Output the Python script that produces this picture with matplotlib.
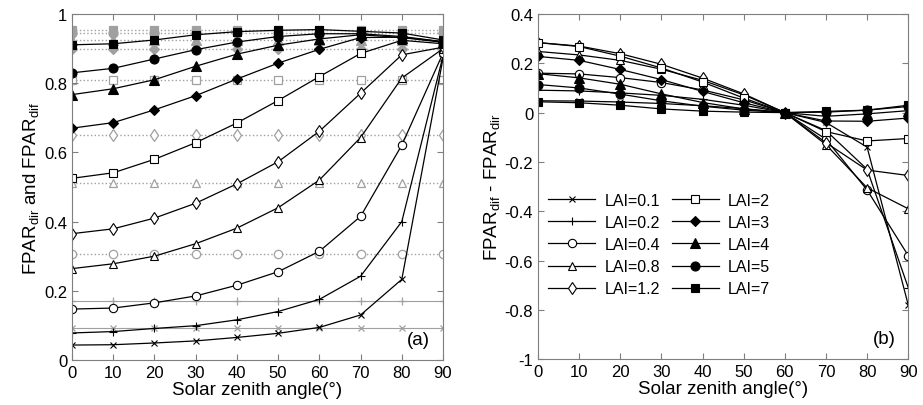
import matplotlib
matplotlib.use("Agg")
import matplotlib.pyplot as plt

plt.rcParams['font.family'] = ['Liberation Sans', 'DejaVu Sans']
plt.rcParams['font.size'] = 12
plt.rcParams['mathtext.fontset'] = 'custom'
plt.rcParams['mathtext.rm'] = 'Liberation Sans'
plt.rcParams['mathtext.it'] = 'Liberation Sans'
plt.rcParams['axes.unicode_minus'] = False

# solar zenith angles (deg)
angles = [0, 10, 20, 30, 40, 50, 60, 70, 80, 90]
lai_labels = ['0.1', '0.2', '0.4', '0.8', '1.2', '2', '3', '4', '5', '7']

# diffuse FPAR, one value per LAI (independent of angle)
fpar_dif = [0.092, 0.169, 0.307, 0.512, 0.649, 0.809, 0.898, 0.926, 0.944, 0.955]

# direct FPAR per LAI
dir_01 = [0.043, 0.044, 0.049, 0.055, 0.065, 0.077, 0.094, 0.130, 0.233, 0.872]
dir_02 = [0.078, 0.082, 0.091, 0.099, 0.116, 0.140, 0.175, 0.242, 0.400, 0.879]
dir_04 = [0.147, 0.150, 0.165, 0.185, 0.216, 0.255, 0.314, 0.415, 0.621, 0.887]
dir_08 = [0.264, 0.278, 0.300, 0.336, 0.381, 0.440, 0.520, 0.643, 0.815, 0.900]
dir_12 = [0.365, 0.379, 0.410, 0.453, 0.509, 0.573, 0.661, 0.771, 0.882, 0.904]
dir_2 = [0.525, 0.541, 0.580, 0.628, 0.685, 0.750, 0.819, 0.886, 0.924, 0.914]
dir_3 = [0.670, 0.686, 0.723, 0.764, 0.812, 0.858, 0.898, 0.932, 0.933, 0.920]
dir_4 = [0.767, 0.784, 0.810, 0.849, 0.884, 0.910, 0.928, 0.940, 0.932, 0.918]
dir_5 = [0.830, 0.843, 0.870, 0.897, 0.919, 0.935, 0.943, 0.943, 0.935, 0.920]
dir_7 = [0.911, 0.914, 0.925, 0.940, 0.949, 0.953, 0.955, 0.950, 0.945, 0.925]

# FPAR_dif - FPAR_dir per LAI (panel b)
diff_01 = [0.048, 0.047, 0.043, 0.037, 0.028, 0.016, 0.0, -0.040, -0.140, -0.780]
diff_02 = [0.091, 0.088, 0.080, 0.070, 0.054, 0.030, 0.0, -0.073, -0.230, -0.710]
diff_04 = [0.160, 0.157, 0.142, 0.122, 0.092, 0.052, 0.0, -0.108, -0.314, -0.580]
diff_08 = [0.248, 0.234, 0.212, 0.176, 0.131, 0.072, 0.0, -0.130, -0.305, -0.390]
diff_12 = [0.284, 0.270, 0.239, 0.196, 0.140, 0.076, 0.0, -0.122, -0.233, -0.255]
diff_2 = [0.284, 0.268, 0.229, 0.181, 0.124, 0.059, 0.0, -0.077, -0.115, -0.105]
diff_3 = [0.228, 0.212, 0.175, 0.134, 0.086, 0.040, 0.0, -0.034, -0.035, -0.022]
diff_4 = [0.158, 0.141, 0.115, 0.076, 0.041, 0.015, 0.0, -0.015, -0.005, 0.008]
diff_5 = [0.114, 0.100, 0.075, 0.048, 0.026, 0.010, 0.0, 0.002, 0.010, 0.025]
diff_7 = [0.044, 0.040, 0.030, 0.015, 0.006, 0.002, 0.0, 0.005, 0.010, 0.030]

dir_all = [dir_01, dir_02, dir_04, dir_08, dir_12, dir_2, dir_3, dir_4, dir_5, dir_7]
diff_all = [diff_01, diff_02, diff_04, diff_08, diff_12, diff_2, diff_3, diff_4, diff_5, diff_7]

# marker, filled?, size
styles = [('x', False, 4), ('+', False, 6), ('o', False, 6), ('^', False, 6), ('d', False, 6.3),
          ('s', False, 5.5), ('D', True, 5), ('^', True, 6.5), ('o', True, 6.5), ('s', True, 5.5)]

frame = '#7f7f7f'
grey = '#a0a0a0'

fig = plt.figure(figsize=(9.23, 4.06), dpi=100)
ax1 = fig.add_axes([0.078, 0.111, 0.402, 0.852])
ax2 = fig.add_axes([0.583, 0.113, 0.401, 0.850])

for i in range(len(lai_labels)):
    m, filled, ms = styles[i]
    # diffuse: constant grey dotted line
    ls = '-' if i < 2 else ':'
    ax1.plot(angles, [fpar_dif[i]] * len(angles), ls, color=grey, lw=0.8 if i < 2 else 1,
             marker=m, ms=ms, mec=grey, mfc=grey if filled else 'white', mew=0.9, zorder=1)
for i in range(len(lai_labels)):
    m, filled, ms = styles[i]
    ax1.plot(angles, dir_all[i], '-', color='black', lw=0.9,
             marker=m, ms=ms, mec='black', mfc='black' if filled else 'white', mew=0.8, zorder=2)
    ax2.plot(angles, diff_all[i], '-', color='black', lw=0.9,
             marker=m, ms=ms, mec='black', mfc='black' if filled else 'white', mew=0.8,
             label='LAI=' + lai_labels[i])

for ax in (ax1, ax2):
    ax.set_xlim(0, 90)
    ax.set_xticks(angles)
    ax.tick_params(direction='in', top=True, right=True, length=4, color=frame,
                   labelcolor='black', labelsize=12)
    for s in ax.spines.values():
        s.set_color(frame)
    ax.set_xlabel('Solar zenith angle(°)', fontsize=13.5, labelpad=1)

ax1.set_ylim(0, 1)
ax1.set_yticks([0, 0.2, 0.4, 0.6, 0.8, 1])
ax1.set_yticklabels(['0', '0.2', '0.4', '0.6', '0.8', '1'])
ax1.set_ylabel(r'FPAR$_{\mathrm{dir}}$ and FPAR$_{\mathrm{dif}}$', fontsize=13.5, labelpad=2)
ax1.text(0.965, 0.035, '(a)', transform=ax1.transAxes, ha='right', va='bottom', fontsize=13.5)

ax2.set_ylim(-1, 0.4)
yt = [-1, -0.8, -0.6, -0.4, -0.2, 0, 0.2, 0.4]
ax2.set_yticks(yt)
ax2.set_yticklabels(['%g' % v for v in yt])
ax2.set_ylabel(r'FPAR$_{\mathrm{dif}}$ - FPAR$_{\mathrm{dir}}$', fontsize=13.5, labelpad=2)
ax2.text(0.965, 0.035, '(b)', transform=ax2.transAxes, ha='right', va='bottom', fontsize=13.5)
ax2.legend(ncol=2, frameon=False, loc='upper left', bbox_to_anchor=(0.01, 0.501),
           fontsize=11.5, handlelength=2.95, labelspacing=0.45, columnspacing=0.75,
           handletextpad=0.56, borderaxespad=0)

fig.savefig('out.png', dpi=100)
